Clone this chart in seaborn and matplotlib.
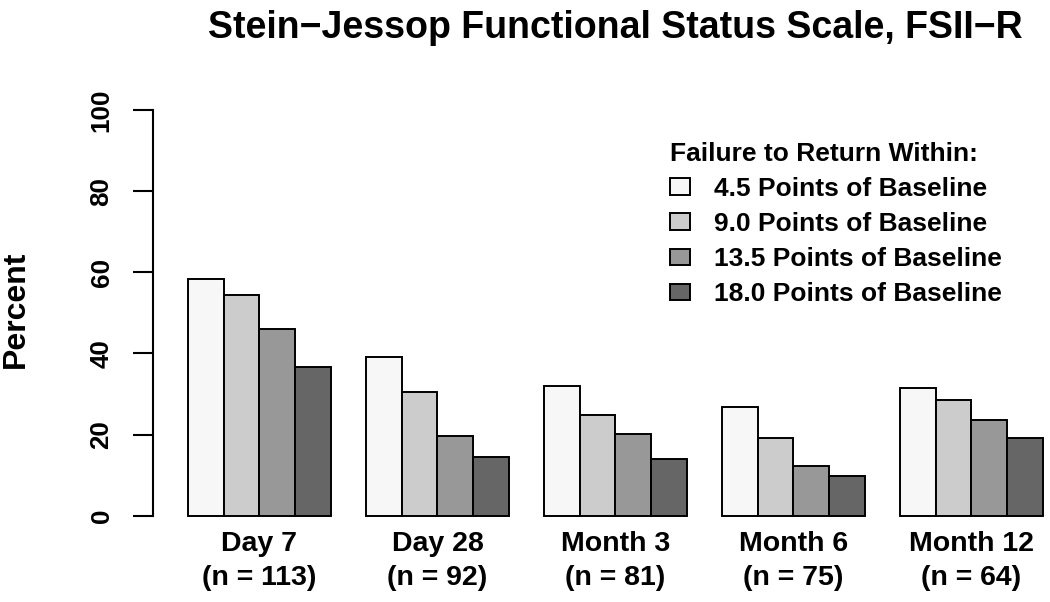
import pandas as pd
import seaborn as sns
from matplotlib import pyplot as plt

# time points on the x axis
timepoints = ["Day 7\n(n = 113)", "Day 28\n(n = 92)", "Month 3\n(n = 81)",
              "Month 6\n(n = 75)", "Month 12\n(n = 64)"]
thresholds = ["4.5 Points of Baseline", "9.0 Points of Baseline",
              "13.5 Points of Baseline", "18.0 Points of Baseline"]

# percent failing to return within each threshold
pct_4_5 = [58.3, 39.2, 32.0, 26.9, 31.5]
pct_9_0 = [54.3, 30.4, 24.8, 19.1, 28.4]
pct_13_5 = [46.0, 19.7, 20.1, 12.3, 23.7]
pct_18_0 = [36.7, 14.5, 13.9, 9.8, 19.1]

grays = ["#F7F7F7", "#CCCCCC", "#989898", "#666666"]

W, H = 1050, 602

df = pd.DataFrame({
    "Timepoint": timepoints * 4,
    "Threshold": [t for t in thresholds for _ in timepoints],
    "Percent": pct_4_5 + pct_9_0 + pct_13_5 + pct_18_0,
})

sns.set_theme(style="white")
plt.rcParams['font.family'] = ['Liberation Sans', 'DejaVu Sans']
plt.rcParams['font.weight'] = 'bold'
plt.rcParams['text.color'] = 'black'
plt.rcParams['xtick.color'] = 'black'
plt.rcParams['ytick.color'] = 'black'

fig = plt.figure(figsize=(W / 100, H / 100), dpi=100)
ax = fig.add_axes([153 / W, (H - 531.9) / H, 897 / W, 438.1 / H])

sns.barplot(df, x="Timepoint", y="Percent", hue="Threshold", hue_order=thresholds,
            order=timepoints, palette=grays, saturation=1, width=0.8,
            edgecolor="black", linewidth=1.4, errorbar=None, ax=ax)

ax.set_xlim(-0.598, 4.441)
ax.set_ylim(-4, 104)
for side in ["top", "right", "bottom"]:
    ax.spines[side].set_visible(False)
ax.spines["left"].set_bounds(0, 100)
ax.spines["left"].set_color("black")
ax.spines["left"].set_linewidth(1.5)

ax.set_yticks([0, 20, 40, 60, 80, 100])
ax.tick_params(axis="y", left=True, length=14.4, width=1.5, color="black",
               labelsize=18.7, pad=14, labelcolor="black")
plt.setp(ax.get_yticklabels(), rotation=90, va="center", fontweight="bold")
ax.tick_params(axis="x", length=0, labelsize=20.5, pad=-0.5, labelcolor="black")
plt.setp(ax.get_xticklabels(), fontweight="bold", linespacing=1.38)
ax.set_xlabel("")
ax.set_ylabel("")

handles, labels = ax.get_legend_handles_labels()
ax.legend(handles, labels, title="Failure to Return Within:", loc="upper left",
          bbox_to_anchor=(670 / W, 1 - 142 / H), bbox_transform=fig.transFigure,
          frameon=False, borderpad=0, borderaxespad=0, fontsize=19,
          title_fontproperties={"weight": "bold", "size": 19},
          handlelength=0.75, handleheight=0.6, handletextpad=0.9,
          labelspacing=0.42, alignment="left")

fig.text(615 / W, 1 - 28 / H, "Stein\u2212Jessop Functional Status Scale, FSII\u2212R",
         ha="center", va="center", fontsize=27, fontweight="bold")
fig.text(16 / W, 1 - 309 / H, "Percent", rotation=90, ha="center", va="center",
         fontsize=23, fontweight="bold")

fig.savefig("out.png", dpi=100)
